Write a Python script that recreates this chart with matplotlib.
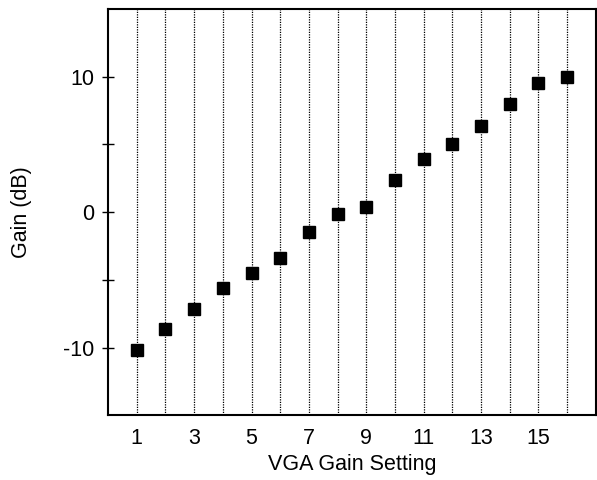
import matplotlib
matplotlib.use("Agg")
import matplotlib.pyplot as plt
from matplotlib.ticker import FixedLocator

plt.rcParams['font.family'] = ['Liberation Sans', 'DejaVu Sans']
plt.rcParams['axes.unicode_minus'] = False

settings = list(range(1, 17))
gain_db = [-10.2, -8.65, -7.15, -5.6, -4.5, -3.35, -1.5, -0.15,
           0.4, 2.4, 3.95, 5.05, 6.4, 8.0, 9.55, 9.95]
x_tick_values = [1, 3, 5, 7, 9, 11, 13, 15]
x_tick_labels = ['1', '3', '5', '7', '9', '11', '13', '15']
y_major = [-10, 0, 10]
y_minor = [-5, 5]

fig = plt.figure(figsize=(5.97, 4.80), dpi=100)
ax = fig.add_axes([0.181, 0.135, 0.817, 0.846])

# dotted vertical guides at every gain setting
for s in settings:
    ax.axvline(s, color='black', linestyle=(0, (1, 1)), linewidth=0.9, zorder=1)

ax.plot(settings, gain_db, linestyle='none', marker='s', markersize=8,
        color='black', zorder=3)

ax.set_xlim(0, 17)
ax.set_ylim(-15, 15)

ax.set_xticks(x_tick_values)
ax.set_xticklabels(x_tick_labels)
ax.tick_params(axis='x', length=0, pad=9, labelsize=15.5)

ax.yaxis.set_major_locator(FixedLocator(y_major))
ax.yaxis.set_minor_locator(FixedLocator(y_minor))
ax.tick_params(axis='y', which='both', direction='inout', length=8, width=1,
               labelsize=15.5, pad=6)

for sp in ax.spines.values():
    sp.set_linewidth(1.5)

ax.set_xlabel('VGA Gain Setting', fontsize=15.5, labelpad=3.5)
ax.set_ylabel('Gain (dB)', fontsize=15.5, labelpad=22)

fig.savefig('out.png', dpi=100)
